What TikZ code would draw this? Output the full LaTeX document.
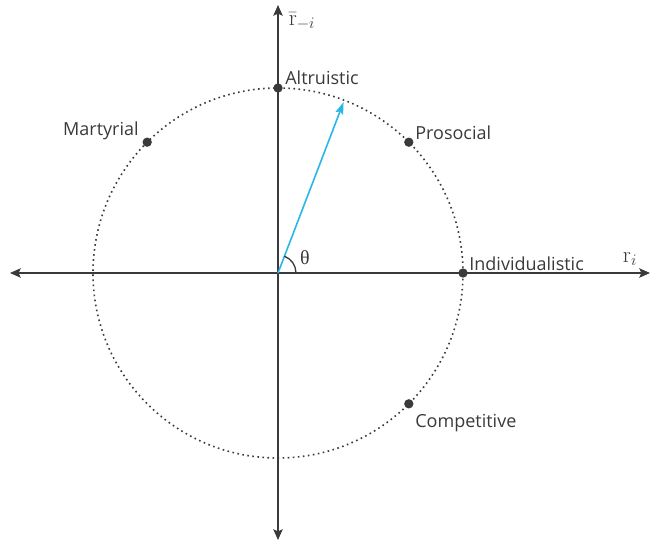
\documentclass[tikz,border=0pt]{standalone}
\usepackage{fontspec}
\newfontfamily\orientfont{Open Sans}
\newfontfamily\greekfont{Liberation Serif}
\usetikzlibrary{positioning,arrows.meta}
\definecolor{axisgray}{HTML}{3A3A3C}
\definecolor{arrowblue}{HTML}{29B6E8}

\begin{document}
\begin{tikzpicture}[
    x=0.75pt,y=0.75pt,
    every node/.style={
        inner sep=1pt,
        outer sep=0pt,
    },
    axis/.style={
        draw=axisgray,
        line width=1pt,
        -{Stealth[length=8pt,width=7pt,inset=1.5pt]},
    },
    dot/.style={
        circle,
        fill=axisgray,
        minimum size=7pt,
        inner sep=0pt,
    },
    orient/.style={
        font=\orientfont\fontsize{13.5}{16}\selectfont,
        text=axisgray,
    },
    mathlabel/.style={
        font=\fontsize{17}{19}\selectfont,
        text=axisgray,
    }
]
    \useasboundingbox (-278,-273) rectangle (377,273);
    \coordinate (o) at (0,0);
    \coordinate (west) at (-268,0);
    \coordinate (east) at (372,0);
    \coordinate (north) at (0,268);
    \coordinate (south) at (0,-267);
    % axes
    \draw[axis] (o) -- (east);
    \draw[axis] (o) -- (west);
    \draw[axis] (o) -- (north);
    \draw[axis] (o) -- (south);
    % dotted circle
    \draw[axisgray,line width=1.2pt,dash pattern=on 1.2pt off 2.6pt] (o) circle (185);
    % orientations
    \node[dot] (altruistic) at (90:185) {};
    \node[dot] (prosocial) at (45:185) {};
    \node[dot] (martyrial) at (135:185) {};
    \node[dot] (individualistic) at (0:185) {};
    \node[dot] (competitive) at (-45:185) {};
    \node[orient,anchor=south west] at (6,187) {Altruistic};
    \node[orient,anchor=south west] at (136,132) {Prosocial};
    \node[orient,anchor=south east] at (-138,132) {Martyrial};
    \node[orient,anchor=south west] at (190,1) {Individualistic};
    \node[orient,anchor=north west] at (136,-140) {Competitive};
    % preference vector
    \coordinate (pref) at (69:183);
    \draw[arrowblue,line width=1.2pt,-{Stealth[length=9pt,width=6pt,inset=1.5pt]}] (o) -- (pref);
    \draw[axisgray,line width=1pt] (18,0) arc (0:69:18);
    \node[mathlabel] (theta) at (27,15) {\greekfont\fontsize{15}{17}\selectfont θ};
    \node[mathlabel] (ri) at (352,14) {$\mathrm{r}_i$};
    \node[mathlabel] (rmi) at (24,252) {$\bar{\mathrm{r}}_{-i}$};
\end{tikzpicture}
\end{document}
